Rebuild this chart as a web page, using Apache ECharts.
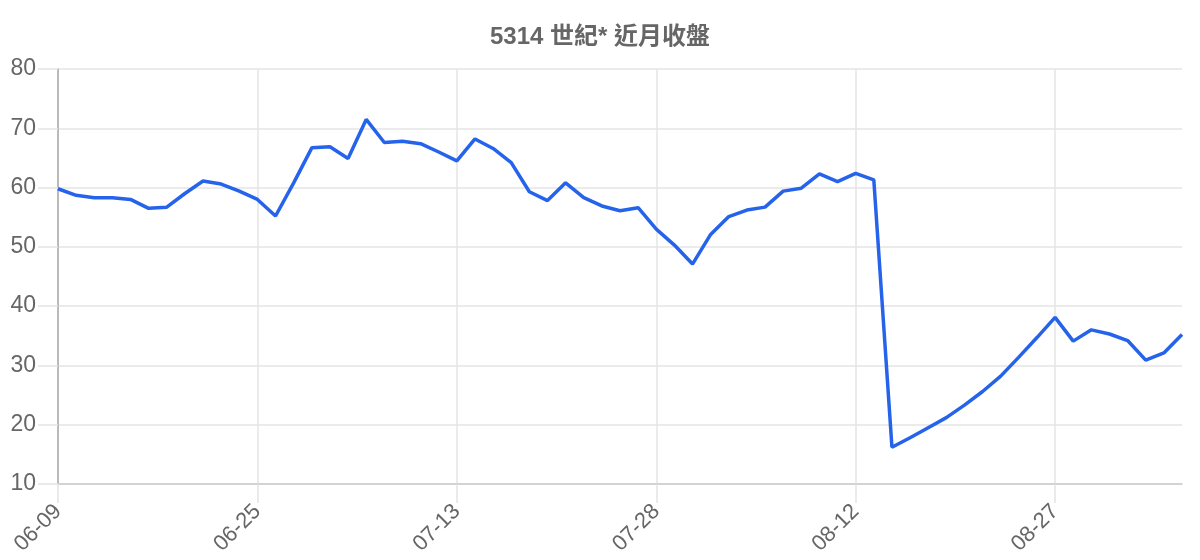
<!DOCTYPE html>
<html>
<head>
<meta charset="utf-8">
<script src="https://cdn.jsdelivr.net/npm/echarts@6/dist/echarts.min.js"></script>
<style>
  html, body { margin: 0; padding: 0; background: #fff; }
  #closeChart { width: 1200px; height: 560px; }
</style>
</head>
<body>
<div id="closeChart"></div>
<script>
var dates = [
  '06-09', '06-10', '06-11', '06-15', '06-16', '06-17', '06-18', '06-21', '06-22', '06-23', '06-24',
  '06-25', '06-28', '06-29', '06-30', '07-01', '07-02', '07-05', '07-06', '07-07', '07-08', '07-09',
  '07-13', '07-14', '07-15', '07-16', '07-19', '07-20', '07-21', '07-22', '07-23', '07-26', '07-27',
  '07-28', '07-29', '07-30', '08-02', '08-03', '08-04', '08-05', '08-06', '08-09', '08-10', '08-11',
  '08-12', '08-13', '08-16', '08-17', '08-18', '08-19', '08-20', '08-23', '08-24', '08-25', '08-26',
  '08-27', '08-30', '08-31', '09-01', '09-02', '09-03', '09-06', '09-07'
];
var closePrices = [
  59.8, 58.7, 58.3, 58.3, 58.0, 56.5, 56.7, 59.0, 61.1, 60.6, 59.4,
  58.0, 55.2, 60.8, 66.7, 66.9, 64.9, 71.5, 67.6, 67.8, 67.4, 66.0,
  64.5, 68.2, 66.6, 64.2, 59.3, 57.8, 60.8, 58.3, 56.9, 56.1, 56.6,
  53.0, 50.3, 47.1, 52.1, 55.1, 56.2, 56.7, 59.4, 59.9, 62.3, 61.0,
  62.4, 61.3, 16.2, 17.8, 19.5, 21.2, 23.3, 25.6, 28.2, 31.4, 34.7,
  38.1, 34.1, 36.0, 35.3, 34.2, 30.9, 32.1, 35.2
];
var chartTitle = '5314 世紀* 近月收盤';

var closeChartDom = document.getElementById('closeChart');
var closeChart = echarts.init(closeChartDom);
var font = '"Liberation Sans", Arial, "Noto Sans CJK TC", sans-serif';

var closeOption = {
  backgroundColor: '#ffffff',
  animation: false,
  title: {
    text: chartTitle,
    left: 'center',
    top: 20,
    textStyle: {
      fontFamily: font,
      fontSize: 24,
      fontWeight: 'bold',
      color: '#666666'
    }
  },
  grid: {
    left: 58,
    right: 18,
    top: 69,
    bottom: 76
  },
  xAxis: {
    type: 'category',
    boundaryGap: false,
    data: dates,
    axisLine: { lineStyle: { color: '#cccccc', width: 1.5 } },
    axisTick: {
      show: true,
      interval: 10,
      length: 19,
      lineStyle: { color: '#e4e4e4', width: 1.5 }
    },
    splitLine: {
      show: true,
      interval: 10,
      lineStyle: { color: '#e4e4e4', width: 1.5 }
    },
    axisLabel: {
      interval: 10,
      rotate: 45,
      margin: 24,
      fontFamily: font,
      fontSize: 22,
      color: '#666666'
    }
  },
  yAxis: {
    type: 'value',
    min: 10,
    max: 80,
    interval: 10,
    axisLine: { show: true, lineStyle: { color: '#aaaaaa', width: 1.5 } },
    axisTick: {
      show: true,
      length: 20,
      lineStyle: { color: '#e4e4e4', width: 1.5 }
    },
    splitLine: { lineStyle: { color: '#e4e4e4', width: 1.5 } },
    axisLabel: {
      margin: 22,
      fontFamily: font,
      fontSize: 23,
      color: '#666666'
    }
  },
  series: [
    {
      name: '收盤',
      type: 'line',
      data: closePrices,
      showSymbol: false,
      lineStyle: { color: '#2563eb', width: 3.5 },
      itemStyle: { color: '#2563eb' }
    }
  ]
};

closeOption && closeChart.setOption(closeOption);
</script>
</body>
</html>
